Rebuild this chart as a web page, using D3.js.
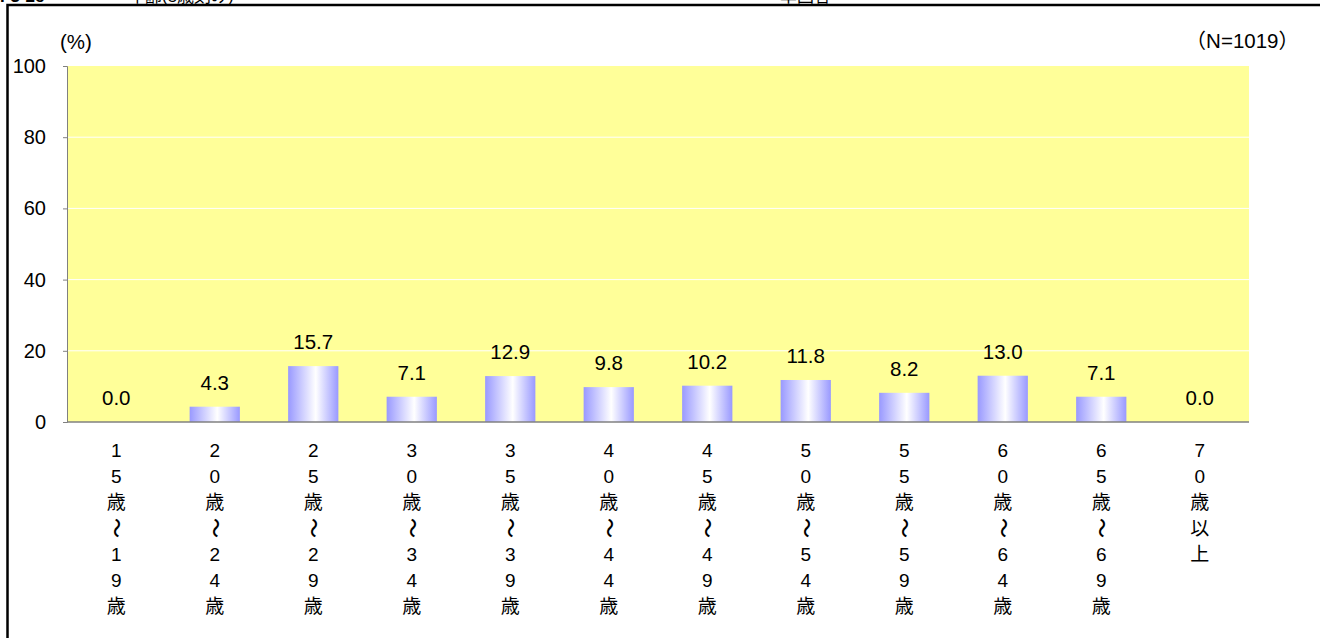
<!DOCTYPE html>
<html><head><meta charset="utf-8">
<script src="https://cdn.jsdelivr.net/npm/d3@7"></script>
<style>body{margin:0;background:#fff;} svg{display:block;}</style>
</head><body>
<svg id="c" width="1320" height="638"></svg>
<script>
const categories = [["1","5","歳","～","1","9","歳"],["2","0","歳","～","2","4","歳"],["2","5","歳","～","2","9","歳"],["3","0","歳","～","3","4","歳"],["3","5","歳","～","3","9","歳"],["4","0","歳","～","4","4","歳"],["4","5","歳","～","4","9","歳"],["5","0","歳","～","5","4","歳"],["5","5","歳","～","5","9","歳"],["6","0","歳","～","6","4","歳"],["6","5","歳","～","6","9","歳"],["7","0","歳","以","上"]];
const values = [0.0,4.3,15.7,7.1,12.9,9.8,10.2,11.8,8.2,13.0,7.1,0.0];
const yTicks = [0,20,40,60,80,100];

const FONT = "'Liberation Sans', Arial, 'Noto Sans CJK JP', sans-serif";
const CJK = "'Noto Sans CJK JP', sans-serif";
const svg = d3.select("#c").style("font-family", FONT);
const L = 67, R = 1249, T = 66, B = 422;

// frame
svg.append("rect").attr("x",7.5).attr("y",5).attr("width",1330).attr("height",650)
  .attr("fill","none").attr("stroke","#000").attr("stroke-width",2.5);
// cut-off header texts
svg.append("text").attr("x",0).attr("y",2).attr("font-size",17).attr("font-weight","bold").text("F3-2c");
svg.append("text").attr("x",128).attr("y",2).attr("font-size",17).text("年齢(5歳刻み)");
svg.append("text").attr("x",780).attr("y",2).attr("font-size",17).text("単回答");

const x = d3.scaleBand().domain(d3.range(values.length)).range([L,R]).paddingInner(0.49).paddingOuter(0.245);
const y = d3.scaleLinear().domain([0,100]).range([B,T]);

const defs = svg.append("defs");
const g = defs.append("linearGradient").attr("id","bg").attr("x1","0").attr("x2","1").attr("y1","0").attr("y2","0");
g.append("stop").attr("offset","0").attr("stop-color","#9999ff");
g.append("stop").attr("offset","0.55").attr("stop-color","#ffffff");
g.append("stop").attr("offset","1").attr("stop-color","#9999ff");

svg.append("rect").attr("x",L).attr("y",T).attr("width",R-L).attr("height",B-T).attr("fill","#ffff99");
svg.append("g").selectAll("line").data(yTicks.filter(d=>d>0&&d<100)).join("line")
  .attr("x1",L).attr("x2",R).attr("y1",d=>y(d)).attr("y2",d=>y(d)).attr("stroke","#fff").attr("stroke-width",1);

svg.append("g").selectAll("rect").data(values).join("rect")
  .attr("x",(d,i)=>x(i)).attr("width",x.bandwidth())
  .attr("y",d=>y(d)).attr("height",d=>B-y(d)).attr("fill","url(#bg)");

// y axis
const ya = svg.append("g").attr("transform",`translate(${L},0)`)
  .call(d3.axisLeft(y).tickValues(yTicks).tickSize(4).tickPadding(17).tickFormat(d3.format("d")));
ya.select(".domain").attr("stroke","#808080");
ya.selectAll(".tick line").attr("stroke","#808080");
ya.selectAll("text").attr("font-size",20).attr("fill","#000").style("font-family",FONT);
// baseline
svg.append("line").attr("x1",L).attr("x2",R).attr("y1",B).attr("y2",B).attr("stroke","#808080").attr("stroke-width",1.5);

// value labels
svg.append("g").selectAll("text").data(values).join("text")
  .attr("x",(d,i)=>x(i)+x.bandwidth()/2).attr("y",d=>y(d)-17)
  .attr("text-anchor","middle").attr("font-size",20.5).attr("fill","#000")
  .text(d=>d.toFixed(1));

// x labels, vertical stacked
categories.forEach((chars,i)=>{
  const cx = x(i)+x.bandwidth()/2;
  chars.forEach((ch,j)=>{
    const cy = 457 + j*26;
    const t = svg.append("text").attr("text-anchor","middle").attr("font-size",19).attr("fill","#000").text(ch);
    if (ch==="～") {
      t.attr("transform",`translate(${cx},${cy-7}) rotate(90)`).attr("dy","0.35em").attr("x",0).attr("y",0)
       .attr("font-size",20).attr("font-weight",500).style("font-family",CJK);
    } else {
      t.attr("x",cx).attr("y",cy);
    }
  });
});

svg.append("text").attr("x",60).attr("y",49).attr("font-size",20.5).text("(%)");
const nt = svg.append("text").attr("x",1299).attr("y",48).attr("text-anchor","end").attr("font-size",20.5);
nt.append("tspan").style("font-family",CJK).text("（");
nt.append("tspan").text("N=1019");
nt.append("tspan").style("font-family",CJK).text("）");
</script>
</body></html>
